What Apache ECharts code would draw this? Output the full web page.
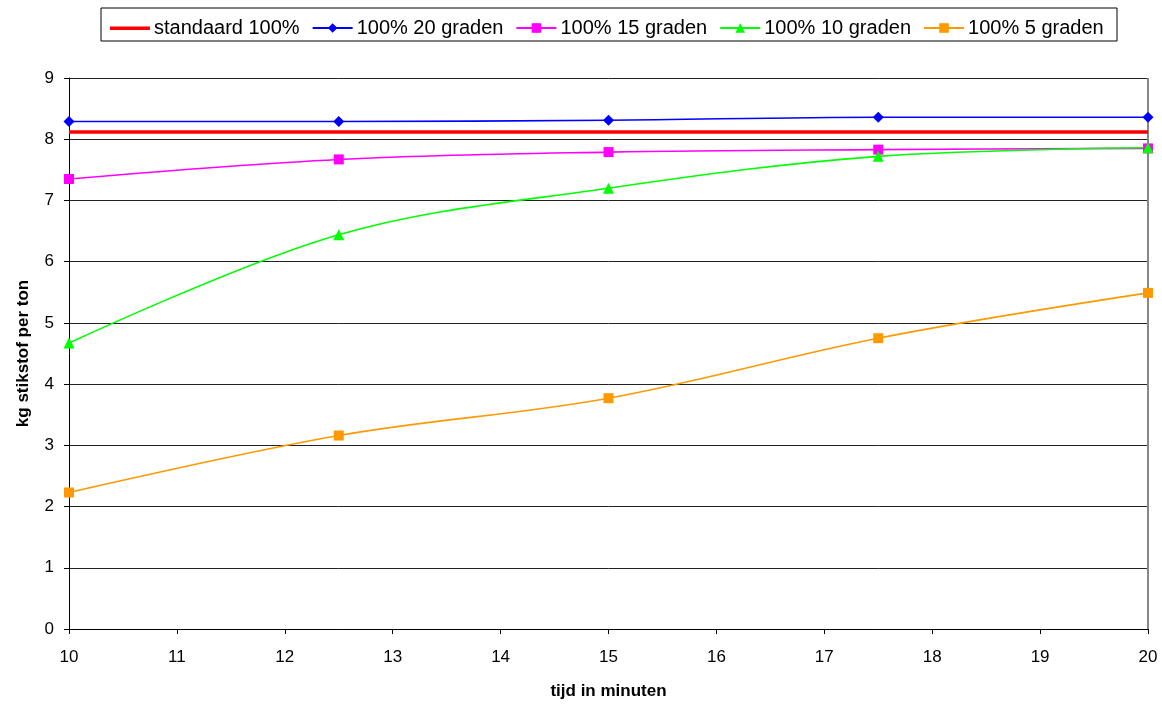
<!DOCTYPE html>
<html><head><meta charset="utf-8">
<script src="https://cdn.jsdelivr.net/npm/echarts@6/dist/echarts.min.js"></script>
<style>html,body{margin:0;padding:0;background:#fff}#c{width:1162px;height:705px}</style>
</head><body><div id="c"></div>
<script>
const times = [10, 12.5, 15, 17.5, 20];
const standaard = [8.12, 8.12];
const standaardX = [10, 20];
const g20 = [8.29, 8.29, 8.31, 8.36, 8.36];
const g15 = [7.35, 7.67, 7.79, 7.83, 7.85];
const g10 = [4.67, 6.44, 7.20, 7.72, 7.86];
const g5 = [2.23, 3.16, 3.77, 4.75, 5.49];
const names = ['standaard 100%', '100% 20 graden', '100% 15 graden', '100% 10 graden', '100% 5 graden'];

const pair = (xs, ys) => xs.map((x, i) => [x, ys[i]]);
const font = 'Liberation Sans, Arial, sans-serif';
const chart = echarts.init(document.getElementById('c'));
function s(name, data, color, symbol, size) {
  return { name, type: 'line', data, smooth: 0.35, symbol, symbolSize: size,
    itemStyle: { color }, lineStyle: { color, width: 1.6 }, z: 3, animation: false };
}
const redIcon = 'path://M0,0 L0.5,0 L0.5,0.01 Z M0,4.5 L40,4.5 L40,8 L0,8 Z M0,12 L0.5,12 L0.5,12.01 Z';
chart.setOption({
  animation: false,
  graphic: [{ type: 'rect', shape: { x: 101, y: 8, width: 1016, height: 33 },
    style: { fill: 'none', stroke: '#000', lineWidth: 1 }, z: 0 }],
  legend: {
    top: 13, left: 105, itemWidth: 40, itemHeight: 12, itemGap: 12,
    textStyle: { fontFamily: font, fontSize: 20, color: '#000', padding: [0, 0, 0, -1] },
    data: [{ name: names[0], icon: redIcon }, names[1], names[2], names[3], names[4]]
  },
  grid: { left: 69, right: 14, top: 78, bottom: 75 },
  xAxis: {
    type: 'value', min: 10, max: 20, interval: 1,
    name: 'tijd in minuten', nameLocation: 'middle', nameGap: 54,
    nameTextStyle: { fontFamily: font, fontSize: 17, fontWeight: 'bold', color: '#000' },
    axisLine: { lineStyle: { color: '#000', width: 1 } },
    axisTick: { show: true, length: 5, lineStyle: { color: '#000' } },
    axisLabel: { fontFamily: font, fontSize: 17, color: '#000', margin: 20 },
    splitLine: { show: false }
  },
  yAxis: {
    type: 'value', min: 0, max: 9, interval: 1,
    name: 'kg stikstof per ton', nameLocation: 'middle', nameGap: 37, nameRotate: 90,
    nameTextStyle: { fontFamily: font, fontSize: 17, fontWeight: 'bold', color: '#000' },
    axisLine: { show: true, lineStyle: { color: '#000', width: 1 } },
    axisTick: { show: true, length: 5, lineStyle: { color: '#000' } },
    axisLabel: { fontFamily: font, fontSize: 17, color: '#000', margin: 15 },
    splitLine: { show: true, lineStyle: { color: '#222', width: 1 } }
  },
  series: [
    { name: names[0], type: 'line', data: pair(standaardX, standaard), symbol: 'none',
      itemStyle: { color: '#FF0000' }, lineStyle: { color: '#FF0000', width: 3.5 }, z: 2 },
    s(names[1], pair(times, g20), '#0000FF', 'diamond', 11),
    s(names[2], pair(times, g15), '#FF00FF', 'rect', 10),
    s(names[3], pair(times, g10), '#00FF00', 'triangle', 11),
    s(names[4], pair(times, g5), '#FF9900', 'rect', 10),
    { type: 'line', data: [[20, 0], [20, 9]], symbol: 'none', silent: true,
      lineStyle: { color: '#888', width: 2 }, z: 1, tooltip: { show: false } }
  ]
});
</script></body></html>
